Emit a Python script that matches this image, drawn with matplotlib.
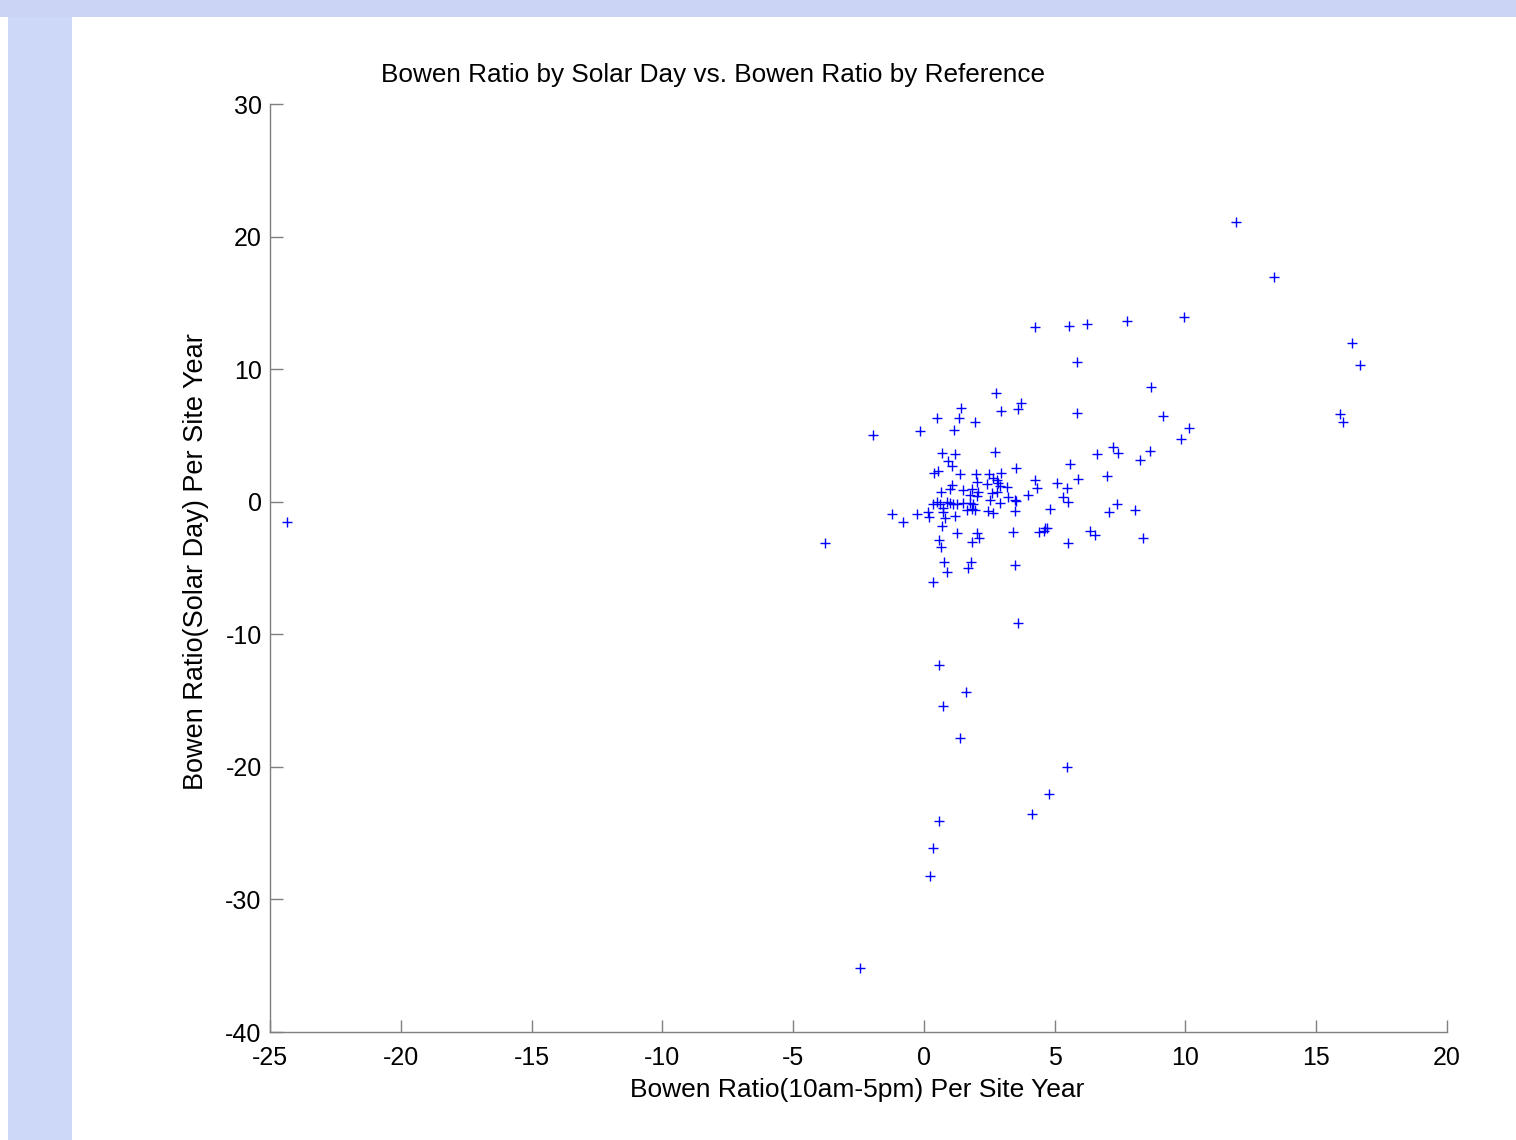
import numpy as np
import matplotlib
matplotlib.use("Agg")
import matplotlib.pyplot as plt
from matplotlib.patches import Rectangle

plt.rcParams['font.family'] = ['Liberation Sans', 'DejaVu Sans']
plt.rcParams['axes.unicode_minus'] = False

# Bowen ratio per site year
bowen_daytime = [
    -24.35, -3.78, -2.45, -1.95, -1.22, -0.80, -0.27, -0.15, 0.50, 1.15,
    1.34, 1.41, 1.95, 2.75, 2.94, 3.59, 3.71, 0.69, 1.19, 2.71,
    0.92, 1.07, 3.52, 0.38, 0.54, 1.38, 1.99, 2.48, 2.94, 2.64,
    2.79, 3.98, 1.07, 0.99, 2.03, 1.49, 1.83, 2.06, 2.41, 2.83,
    2.91, 3.17, 0.65, 2.60, 2.79, 3.21, 3.48, 1.76, 2.03, 2.52,
    2.91, 0.34, 0.50, 0.61, 0.88, 0.99, 1.11, 1.26, 1.49, 1.76,
    1.87, 1.64, 1.83, 1.95, 0.73, 0.73, 0.15, 0.19, 0.80, 0.69,
    1.19, 2.45, 2.64, 3.48, 1.26, 2.03, 3.40, 0.57, 0.65, 1.83,
    2.10, 0.76, 0.88, 1.80, 1.68, 0.34, 3.48, 3.59, 4.40, 4.59,
    4.70, 5.50, 4.24, 5.54, 6.23, 7.76, 9.94, 5.85, 8.68, 5.85,
    9.14, 10.13, 9.82, 7.22, 7.42, 6.61, 8.64, 8.26, 5.58, 5.89,
    7.00, 4.24, 4.32, 5.08, 5.47, 5.31, 5.50, 4.82, 7.38, 7.07,
    8.07, 6.35, 6.54, 8.37, 11.93, 13.38, 16.36, 16.67, 15.90, 16.02,
    0.57, 0.73, 1.61, 1.38, 5.47, 4.78, 4.13, 0.57, 0.34, 0.23,
    3.52, 4.63,
]
bowen_solar_day = [
    -1.52, -3.11, -35.16, 5.04, -0.92, -1.52, -0.92, 5.34, 6.32, 5.41,
    6.32, 7.07, 6.02, 8.21, 6.85, 7.00, 7.45, 3.68, 3.60, 3.76,
    3.08, 2.70, 2.55, 2.17, 2.32, 2.10, 2.10, 2.10, 2.17, 1.79,
    1.64, 0.51, 1.27, 0.97, 1.49, 0.89, 0.97, 0.74, 1.34, 1.42,
    1.19, 1.12, 0.74, 0.66, 0.74, 0.36, 0.14, 0.51, 0.44, 0.14,
    -0.09, -0.17, -0.02, -0.17, -0.02, -0.09, -0.17, -0.17, -0.09, -0.09,
    -0.17, -0.62, -0.54, -0.62, -0.47, -0.77, -0.77, -1.15, -1.22, -1.83,
    -1.07, -0.69, -0.84, -0.69, -2.35, -2.35, -2.28, -2.88, -3.41, -3.03,
    -2.73, -4.54, -5.29, -4.54, -4.99, -6.05, -4.77, -9.14, -2.28, -2.20,
    -1.98, -3.11, 13.18, 13.26, 13.41, 13.63, 13.94, 10.54, 8.66, 6.70,
    6.47, 5.57, 4.74, 4.13, 3.68, 3.60, 3.83, 3.15, 2.85, 1.72,
    1.95, 1.64, 1.04, 1.42, 1.04, 0.36, -0.02, -0.54, -0.17, -0.77,
    -0.62, -2.20, -2.50, -2.73, 21.10, 16.95, 11.98, 10.32, 6.62, 6.02,
    -12.31, -15.40, -14.34, -17.81, -20.00, -22.04, -23.54, -24.07, -26.11, -28.22,
    0.06, -1.98,
]
x_ticks = [-25, -20, -15, -10, -5, 0, 5, 10, 15, 20]
y_ticks = [-40, -30, -20, -10, 0, 10, 20, 30]

W, H = 1516, 1140
fig = plt.figure(figsize=(W / 100, H / 100), dpi=100)
fig.patch.set_facecolor('white')

# light blue frame bands (top strip + left strip)
fig.patches.append(Rectangle((0, 1 - 17 / H), 1, 17 / H, transform=fig.transFigure,
                             facecolor='#cbd4f5', edgecolor='none', zorder=0))
fig.patches.append(Rectangle((8 / W, 0), 64 / W, 1 - 17 / H, transform=fig.transFigure,
                             facecolor='#cdd8f8', edgecolor='none', zorder=0))

ax = fig.add_axes([270 / W, 1 - 1032 / H, (1447 - 270) / W, (1032 - 104) / H])
ax.plot(bowen_daytime, bowen_solar_day, linestyle='none', marker='+',
        color='#0000ff', markersize=7, markeredgewidth=1.0)

ax.set_xlim(-25, 20)
ax.set_ylim(-40, 30)
ax.set_xticks(x_ticks)
ax.set_yticks(y_ticks)
for s in ['top', 'right']:
    ax.spines[s].set_visible(False)
for s in ['left', 'bottom']:
    ax.spines[s].set_color('#7f7f7f')
    ax.spines[s].set_linewidth(1.0)
ax.tick_params(direction='in', length=9, width=1.0, color='#7f7f7f',
               labelsize=18, labelcolor='black')
ax.tick_params(axis='x', pad=10)
ax.tick_params(axis='y', pad=6)

ax.set_xlabel('Bowen Ratio(10am-5pm) Per Site Year', fontsize=19, va='center')
ax.xaxis.set_label_coords((857 - 270) / 1177, (1032 - 1090) / 928)
ax.set_ylabel('Bowen Ratio(Solar Day) Per Site Year', fontsize=19.5, va='center')
ax.yaxis.set_label_coords((196 - 270) / 1177, (1032 - 562) / 928)

fig.text(713 / W, 1 - 75 / H, 'Bowen Ratio by Solar Day vs. Bowen Ratio by Reference',
         fontsize=18.8, ha='center', va='center')

fig.savefig('out.png', dpi=100)
